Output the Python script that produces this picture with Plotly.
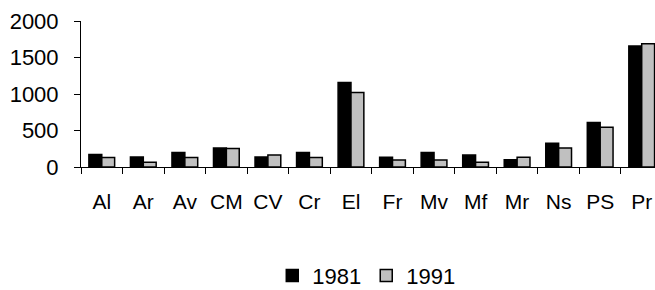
import plotly.graph_objects as go

categories = ["Al", "Ar", "Av", "CM", "CV", "Cr", "El", "Fr", "Mv", "Mf", "Mr", "Ns", "PS", "Pr"]
values_1981 = [170, 137, 197, 260, 137, 197, 1156, 133, 197, 164, 101, 325, 608, 1658]
values_1991 = [129, 64, 129, 255, 164, 129, 1019, 96, 96, 64, 133, 260, 544, 1690]
y_ticks = [0, 500, 1000, 1500, 2000]

FONT = "Liberation Sans, Arial, sans-serif"

fig = go.Figure()
fig.add_trace(go.Bar(
    x=categories, y=values_1981, name="1981",
    marker=dict(color="#000000", line=dict(color="#000000", width=1.5)),
))
fig.add_trace(go.Bar(
    x=categories, y=values_1991, name="1991",
    marker=dict(color="#C0C0C0", line=dict(color="#000000", width=1.5)),
))

fig.update_layout(
    width=655, height=290,
    margin=dict(l=81, r=0, t=21, b=123, autoexpand=False),
    paper_bgcolor="white", plot_bgcolor="white",
    barmode="group", bargap=0.38, bargroupgap=0,
    font=dict(family=FONT, color="black", size=21),
    showlegend=True,
    legend=dict(
        orientation="h", x=0.497, xanchor="center", y=-0.745, yanchor="middle",
        font=dict(size=22, family=FONT), itemwidth=30, tracegroupgap=0,
        bgcolor="rgba(0,0,0,0)",
    ),
    xaxis=dict(
        range=[-0.5, 13.32], showline=True, linecolor="black", linewidth=1,
        ticks="outside", tickson="boundaries", ticklen=6, tickcolor="black",
        tickfont=dict(size=21, family=FONT), showgrid=False, zeroline=False,
        ticklabelstandoff=16, tickangle=0, automargin=False,
    ),
    yaxis=dict(
        range=[0, 2000], tickvals=y_ticks, showline=True, linecolor="black",
        linewidth=1, ticks="outside", ticklen=6, tickcolor="black",
        tickfont=dict(size=22, family=FONT), showgrid=False, zeroline=False,
        ticklabelstandoff=11, automargin=False,
    ),
)

fig.write_html("out.html", config={"displayModeBar": False},
               post_script="document.body.style.margin='0';")
